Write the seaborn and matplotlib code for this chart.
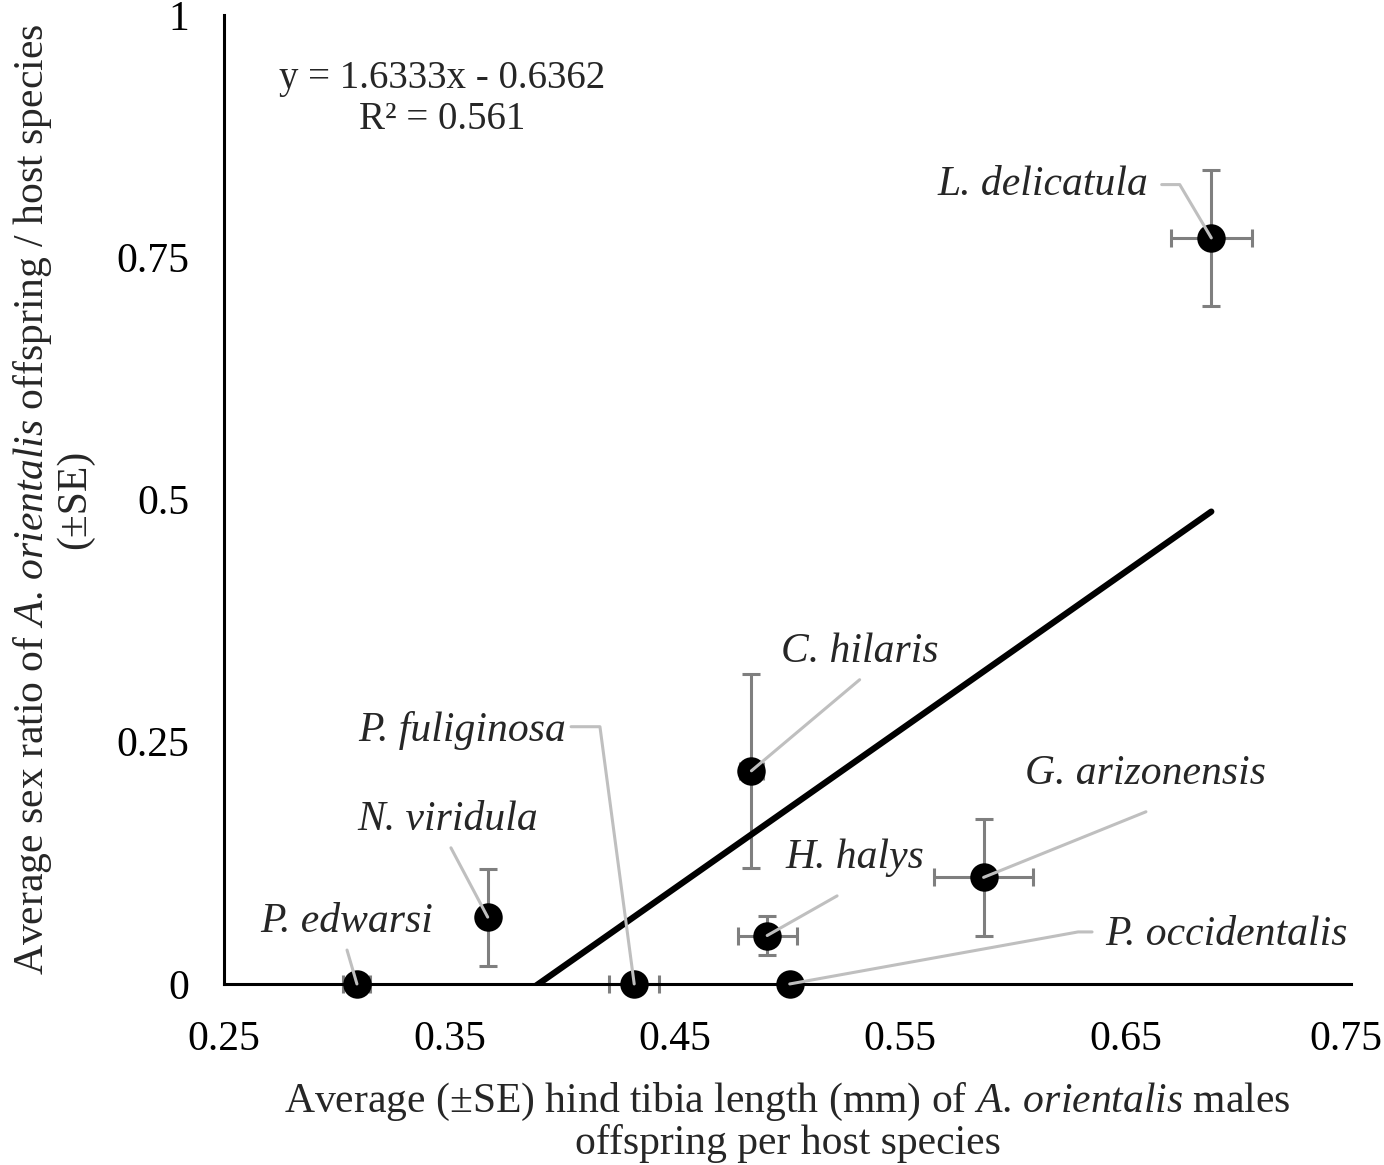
import numpy as np
import pandas as pd
import seaborn as sns
import matplotlib.pyplot as plt
from matplotlib.transforms import ScaledTranslation

# data
species = ["P. edwarsi", "N. viridula", "P. fuliginosa", "C. hilaris",
           "H. halys", "P. occidentalis", "G. arizonensis", "L. delicatula"]
tibia = [0.309, 0.367, 0.432, 0.484, 0.491, 0.501, 0.587, 0.688]
tibia_se = [0.006, 0.0, 0.011, 0.005, 0.013, 0.0, 0.022, 0.018]
ratio = [0.0, 0.069, 0.0, 0.22, 0.05, 0.0, 0.11, 0.77]
ratio_se = [0.0, 0.05, 0.0, 0.10, 0.02, 0.0, 0.06, 0.07]

slope = 1.6333
intercept = -0.6362
r2 = 0.561

x_ticks = [0.25, 0.35, 0.45, 0.55, 0.65, 0.75]
y_ticks = [0, 0.25, 0.5, 0.75, 1]
y_ticklabels = ["0", "0.25", "0.5", "0.75", "1"]

df = pd.DataFrame({"species": species, "tibia": tibia, "tibia_se": tibia_se,
                   "ratio": ratio, "ratio_se": ratio_se})

sns.set_style("white")
plt.rcParams["font.family"] = ["Liberation Serif", "DejaVu Serif"]
plt.rcParams["mathtext.fontset"] = "custom"
plt.rcParams["mathtext.rm"] = "Liberation Serif"
plt.rcParams["mathtext.it"] = "Liberation Serif:italic"

fs = 30
fig = plt.figure(figsize=(13.84, 11.65), dpi=100)
ax = fig.add_axes([0.1618, 0.1554, 0.8144, 0.8317])

# error bars
ax.errorbar(df["tibia"], df["ratio"], xerr=df["tibia_se"], yerr=df["ratio_se"],
            fmt="none", ecolor="#7f7f7f", elinewidth=2.2, capsize=6.5,
            capthick=2.2, zorder=2, clip_on=False)

# trendline
xl = np.array([min(tibia), max(tibia)])
line_df = pd.DataFrame({"x": xl, "y": slope * xl + intercept})
sns.lineplot(data=line_df, x="x", y="y", color="black", linewidth=4.5, ax=ax,
             zorder=3)

# points
sns.scatterplot(data=df, x="tibia", y="ratio", color="black", s=420,
                edgecolor="black", linewidth=0, ax=ax, zorder=4, clip_on=False)

# labels and leader lines: (text x, text y, ha, leader path after the point)
labels = {
    "P. edwarsi": (0.3046, 0.064, "center", [(0.3046, 0.035)]),
    "N. viridula": (0.3494, 0.169, "center", [(0.3507, 0.1405)]),
    "P. fuliginosa": (0.4017, 0.262, "right", [(0.4168, 0.2655), (0.404, 0.2655)]),
    "C. hilaris": (0.532, 0.343, "center", [(0.532, 0.314)]),
    "H. halys": (0.530, 0.130, "center", [(0.522, 0.0909)]),
    "P. occidentalis": (0.6409, 0.0506, "left", [(0.6289, 0.0537), (0.6351, 0.0537)]),
    "G. arizonensis": (0.659, 0.217, "center", [(0.659, 0.1777)]),
    "L. delicatula": (0.660, 0.825, "right", [(0.674, 0.825), (0.666, 0.825)]),
}
for sp, xv, yv in zip(species, tibia, ratio):
    tx, ty, ha, path = labels[sp]
    px = [xv] + [p[0] for p in path]
    py = [yv] + [p[1] for p in path]
    ax.plot(px, py, color="#bfbfbf", linewidth=2.2, zorder=5, clip_on=False)
    ax.text(tx, ty, sp, fontsize=fs, style="italic", ha=ha, va="center")

ax.text(0.194, 0.913, f"y = {slope}x - {abs(intercept)}\nR² = {r2}",
        transform=ax.transAxes, fontsize=28, ha="center", va="center",
        multialignment="center", linespacing=1.15)

ax.set_xlim(0.25, 0.75)
ax.set_ylim(0, 1)
ax.set_xticks(x_ticks)
ax.set_xticklabels([f"{t:.2f}" for t in x_ticks])
ax.set_yticks(y_ticks)
ax.set_yticklabels(y_ticklabels)
ax.tick_params(direction="in", length=8, width=2, labelsize=fs, colors="black")
ax.tick_params(axis="x", pad=26)
ax.tick_params(axis="y", pad=25)
sns.despine(ax=ax)
for s in ["left", "bottom"]:
    ax.spines[s].set_linewidth(2.2)
    ax.spines[s].set_color("black")

# keep the last x tick label inside the figure edge
last = ax.get_xticklabels()[-1]
last.set_transform(last.get_transform() + ScaledTranslation(-4 / 72, 0, fig.dpi_scale_trans))

ax.set_xlabel("Average (±SE) hind tibia length (mm) of $\\mathit{A.\\,orientalis}$ males\n"
              "offspring per host species", fontsize=fs, labelpad=16, linespacing=1.05)
ax.set_ylabel("Average sex ratio of $\\mathit{A.\\,orientalis}$ offspring / host species\n(±SE)",
              fontsize=fs, labelpad=16, linespacing=1.05)

fig.savefig("out.png", dpi=100)
